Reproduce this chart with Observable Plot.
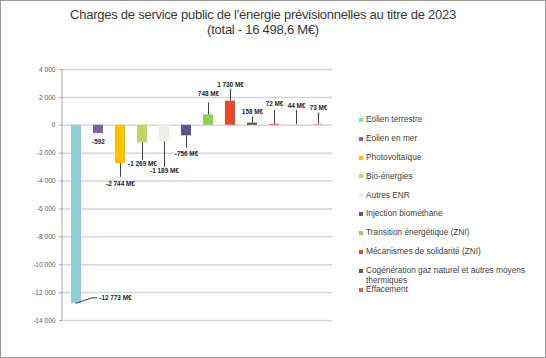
<!DOCTYPE html>
<html><head><meta charset="utf-8">
<script src="https://cdn.jsdelivr.net/npm/d3@7"></script>
<script src="https://cdn.jsdelivr.net/npm/@observablehq/plot@0.6"></script>
<style>
html,body{margin:0;padding:0;background:#fff;}
#wrap{position:relative;width:546px;height:358px;box-sizing:border-box;border:1px solid #9a9a9a;background:#fff;overflow:hidden;}
#title{height:44px;box-sizing:border-box;padding-top:6px;padding-right:20px;text-align:center;font-family:"Liberation Sans Narrow","Liberation Sans",sans-serif;font-size:13px;letter-spacing:-0.25px;line-height:15px;color:#3a3a3a;}
#legend{position:absolute;left:358px;top:114px;width:180px;font-family:"Liberation Sans",Arial,sans-serif;font-size:8.3px;line-height:9.5px;color:#404040;}
.item{display:flex;align-items:flex-start;margin-bottom:9.4px;}
.item:last-child{margin-top:-9.4px;}
.sw{width:4px;height:4px;margin-top:2.8px;margin-right:3px;flex:none;}
.lt{max-width:168px;}
</style>
</head><body>
<div id="wrap">
  <div id="title">Charges de service public de l'énergie prévisionnelles au titre de 2023<br>(total - 16 498,6 M€)</div>
  <div id="chart"></div>
  <div id="legend"></div>
</div>
<script>
const categories = ["Eolien terrestre","Eolien en mer","Photovoltaïque","Bio-énergies","Autres ENR","Injection biométhane","Transition énergétique (ZNI)","Mécanismes de solidarité (ZNI)","Cogénération gaz naturel et autres moyens thermiques","Effacement","Stockage","Autres dispositifs"];
const values = [-12773,-592,-2744,-1269,-1189,-756,748,1730,158,72,44,73];
const valueLabels = ["-12 773 M€","-592","-2 744 M€","-1 269 M€","-1 189 M€","-756 M€","748 M€","1 730 M€","158 M€","72 M€","44 M€","73 M€"];
const labelAt = [-12410,-1197,-4232,-2798,-3300,-2080,2224,2870,954,1506,1384,1270];
const leaderEnd = [null,null,-3730,-2511,-3013,-1650,1600,2582,595,1076,1076,861];
const colors = ["#8ECFD3","#8064A2","#FFC000","#C0D665","#EBF1DE","#5F5590","#92D050","#E84B2C","#595959","#F0506E","#D9D9D9","#F4A6B4"];
const legendCount = 10;
const yTicks = [4000,2000,0,-2000,-4000,-6000,-8000,-10000,-12000,-14000];

const data = categories.map((c,i)=>({cat:c,value:values[i],label:valueLabels[i],labelAt:labelAt[i],leaderEnd:leaderEnd[i],color:colors[i]}));
const fmt = d => (d<0?"-":"") + Math.abs(d).toString().replace(/\B(?=(\d{3})+(?!\d))/g," ");

const first = data[0];
const extra = (index, scales, values, dims) => {
  const g = d3.create("svg:g");
  const x = scales.x, y = scales.y;
  g.append("line").attr("x1",dims.marginLeft).attr("x2",dims.marginLeft)
    .attr("y1",y(yTicks[0])).attr("y2",y(yTicks[yTicks.length-1]))
    .attr("stroke","#a6a6a6").attr("stroke-width",1);
  const xc = x(first.cat) + x.bandwidth()/2;
  g.append("polyline")
    .attr("points",[[xc-0.5,y(first.value)+0.5],[xc+16,y(first.labelAt)],[xc+21,y(first.labelAt)]].map(p=>p.join(",")).join(" "))
    .attr("fill","none").attr("stroke","#404040").attr("stroke-width",1);
  return g.node();
};

const chart = Plot.plot({
  width: 544, height: 312,
  marginLeft: 61, marginRight: 213, marginTop: 24, marginBottom: 37,
  style: {fontFamily: "'Liberation Sans Narrow','Liberation Sans',sans-serif", background: "transparent"},
  x: {type: "band", domain: categories, paddingInner: 0.54, paddingOuter: 0.27, axis: null},
  y: {domain: [-14000, 4000]},
  marks: [
    Plot.gridY(yTicks, {stroke: "#d6d6d6", strokeOpacity: 1, strokeWidth: 1.5}),
    Plot.axisY(yTicks, {tickSize: 3, tickPadding: 4, tickFormat: fmt, fontSize: 6.6, fill: "#595959", stroke: "#a6a6a6", label: null}),
    Plot.barY(data, {x: "cat", y: "value", fill: "color"}),
    Plot.ruleX(data.filter(d => d.leaderEnd !== null), {x: "cat", y1: "value", y2: "leaderEnd", stroke: "#404040", strokeWidth: 1}),
    extra,
    Plot.text(data.slice(1), {x: "cat", y: "labelAt", text: "label", fontSize: 6.4, fontWeight: "bold", fill: "#262626"}),
    Plot.text([first], {x: "cat", y: "labelAt", text: "label", dx: 22.75, textAnchor: "start", fontSize: 6.4, fontWeight: "bold", fill: "#262626"})
  ]
});
document.getElementById("chart").appendChild(chart);

const legend = document.getElementById("legend");
categories.slice(0, legendCount).forEach((c, i) => {
  const it = document.createElement("div");
  it.className = "item";
  const sw = document.createElement("div");
  sw.className = "sw"; sw.style.background = colors[i];
  const t = document.createElement("div");
  t.className = "lt"; t.textContent = c;
  it.appendChild(sw); it.appendChild(t);
  legend.appendChild(it);
});
</script>
</body></html>
